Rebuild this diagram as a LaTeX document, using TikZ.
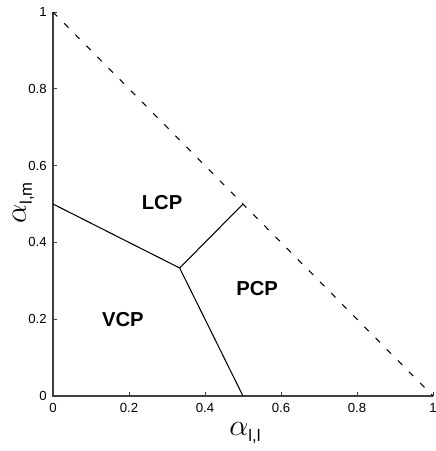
\documentclass[tikz,border=0pt]{standalone}
\usepackage{fontspec}
\setmainfont{Liberation Sans}
\usetikzlibrary{positioning}

\begin{document}
\begin{tikzpicture}[x=7.6cm,y=7.68cm,
  every node/.style={inner sep=0pt},
  ticklab/.style={font=\fontsize{7.5}{8}\selectfont},
  region/.style={font=\fontsize{11.5}{12}\selectfont\bfseries},
  axlab/.style={font=\fontsize{16}{16}\selectfont},
  axis/.style={draw=black!75,line width=1.1pt},
  border/.style={draw=black,line width=0.6pt},
  limit/.style={draw=black,line width=0.6pt,dash pattern=on 3.5pt off 5.5pt}]
\useasboundingbox (-0.1395,-0.1432) rectangle (1.0053,1.0313);
% corner points of the regions
\coordinate (o) at (0,0);
\coordinate (xe) at (1,0);
\coordinate (ye) at (0,1);
\coordinate (tp) at (1/3,1/3);
\coordinate (lv) at (0,0.5);
\coordinate (pv) at (0.5,0);
\coordinate (lp) at (0.5,0.5);
% axes and ticks
\draw[axis] (ye) -- (o) -- (xe);
\foreach \v in {0,0.2,0.4,0.6,0.8,1} {
  \draw[black!75,line width=0.5pt] (\v,0) -- ++(0,0.08cm);
  \draw[black!75,line width=0.5pt] (0,\v) -- ++(0.08cm,0);
  \node[ticklab] (xt\v) at (\v,-0.03125) {\v};
  \node[ticklab,anchor=east] (yt\v) at (-0.0158,\v) {\v};
}
\node[axlab] (xl) at (0.505,-0.0964) {$\alpha$\raisebox{-0.4ex}{\fontsize{9.5}{9.5}\selectfont l,l}};
\node[axlab,rotate=90] (yl) at (-0.078,0.5026) {$\alpha$\raisebox{-0.4ex}{\fontsize{9.5}{9.5}\selectfont l,m}};
% region borders
\draw[limit] (ye) -- (xe);
\draw[border] (lv) -- (tp) -- (pv);
\draw[border] (tp) -- (lp);
% region names
\node[region] (lcp) at (0.287,0.503) {LCP};
\node[region] (pcp) at (0.537,0.279) {PCP};
\node[region] (vcp) at (0.184,0.198) {VCP};
\end{tikzpicture}
\end{document}
